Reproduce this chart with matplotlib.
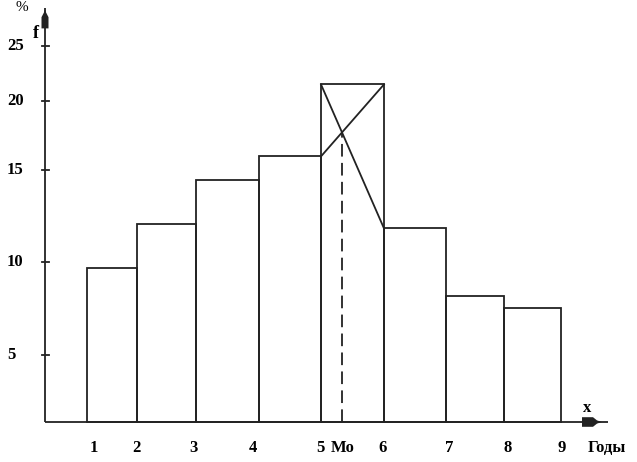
import matplotlib.pyplot as plt
from matplotlib.patches import Polygon

# bar edges along the x axis and bar heights (chart units)
edges = [8.7, 13.7, 19.6, 25.9, 32.1, 38.4, 44.6, 50.4, 56.1]
freq = [9.6, 12.4, 15.1, 16.6, 21.1, 12.1, 7.9, 7.1]

# x tick labels and their places
xlabels = ["1", "2", "3", "4", "5", "6", "7", "8", "9"]
xlabel_pos = [9.4, 13.6, 19.4, 25.3, 32.0, 38.3, 44.9, 50.8, 56.2]

# y tick labels and their places
ylabels = ["5", "10", "15", "20", "25"]
ytick_pos = [4.19, 10.0, 15.75, 20.06, 23.5]

modal = 4  # index of the modal bar

plt.rcParams["font.family"] = ["Liberation Serif", "DejaVu Serif"]
plt.rcParams["font.weight"] = "bold"

fig = plt.figure(figsize=(6.37, 4.62), dpi=100)
ax = fig.add_axes([0, 0, 1, 1])
ax.set_xlim(0, 63.7)
ax.set_ylim(-2.5, 26.375)
ax.axis("off")

col = "#222222"
lw = 1.3
fs = 12

# bars
widths = [edges[i + 1] - edges[i] for i in range(len(freq))]
ax.bar(edges[:-1], freq, width=widths, align="edge", fill=False,
       edgecolor=col, linewidth=lw)

# axes lines
ax.plot([4.5, 60.8], [0, 0], color=col, lw=lw, solid_capstyle="butt")
ax.plot([4.5, 4.5], [0, 25.9], color=col, lw=lw, solid_capstyle="butt")
# arrow heads (thick blocks)
ax.add_patch(Polygon([[58.2, -0.3], [59.3, -0.3], [59.7, -0.1], [60.2, 0],
                      [59.7, 0.1], [59.3, 0.3], [58.2, 0.3]],
                     closed=True, color=col, lw=0))
ax.add_patch(Polygon([[4.15, 24.6], [4.15, 25.3], [4.4, 25.6], [4.5, 25.8],
                      [4.6, 25.6], [4.85, 25.3], [4.85, 24.6]],
                     closed=True, color=col, lw=0))

# y ticks
for p, lab in zip(ytick_pos, ylabels):
    ax.plot([4.2, 4.9], [p, p], color=col, lw=lw)
    ax.text(0.7, p, lab, ha="left", va="center", fontsize=fs, color="black")

# x labels
for p, lab in zip(xlabel_pos, xlabels):
    ax.text(p, -1.65, lab, ha="center", va="center", fontsize=fs, color="black")

# mode construction
x0, x1 = edges[modal], edges[modal + 1]
yl, ym, yr = freq[modal - 1], freq[modal], freq[modal + 1]
ax.plot([x0, x1], [yl, ym], color=col, lw=lw)
ax.plot([x0, x1], [ym, yr], color=col, lw=lw)
t = (ym - yl) / ((ym - yl) + (ym - yr))
mx = x0 + t * (x1 - x0)
my = yl + t * (ym - yl)
ax.plot([mx, mx], [0, my], color=col, lw=lw, dashes=(7, 3.5))
ax.text(mx + 0.1, -1.65, "Mo", ha="center", va="center", fontsize=fs, color="black")

# axis captions
ax.text(3.6, 24.3, "f", ha="center", va="center", fontsize=13, color="black")
ax.text(2.2, 25.9, "%", ha="center", va="center", fontsize=11,
        fontweight="normal", color="black")
ax.text(58.7, 0.9, "x", ha="center", va="center", fontsize=fs, color="black")
ax.text(60.7, -1.65, "Годы", ha="center", va="center", fontsize=fs, color="black")

fig.savefig("out.png", dpi=100)
